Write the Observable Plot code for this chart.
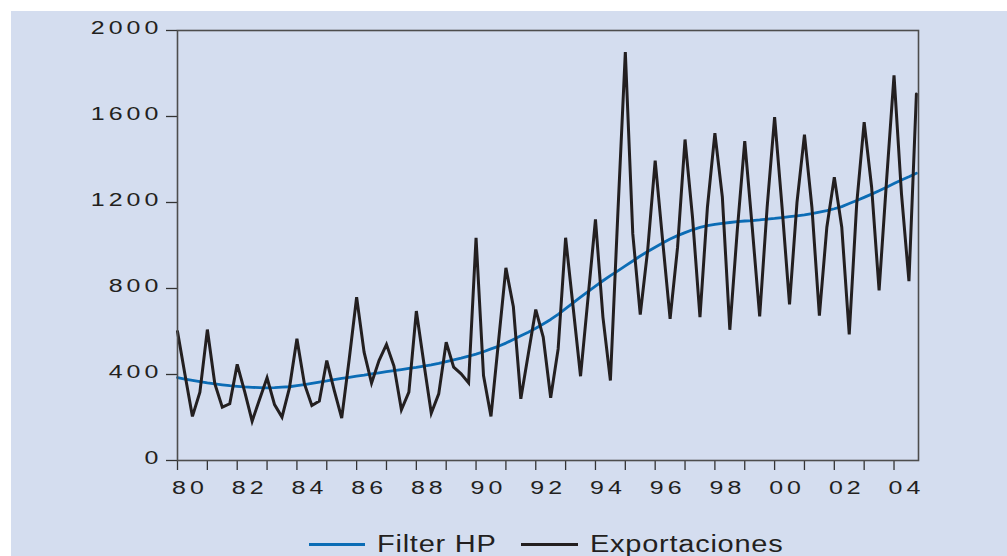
<!DOCTYPE html>
<html>
<head>
<meta charset="utf-8">
<script src="https://cdn.jsdelivr.net/npm/d3@7"></script>
<script src="https://cdn.jsdelivr.net/npm/@observablehq/plot@0.6"></script>
<style>
  html, body { margin: 0; padding: 0; background: #ffffff; }
  body { width: 1007px; height: 556px; position: relative; overflow: hidden;
         font-family: "Liberation Sans", Arial, Helvetica, sans-serif; }
  #bg { position: absolute; left: 11px; top: 11px; width: 996px; height: 545px; background: #d4ddef; }
  #chart { position: absolute; left: 0; top: 0; }
  .leg-line { position: absolute; height: 3px; }
  .leg-text { position: absolute; font-size: 23px; line-height: 23px; color: #231f20;
              transform: scaleX(1.26); transform-origin: left center; white-space: nowrap; letter-spacing: 0.6px; }
</style>
</head>
<body>
<div id="bg"></div>
<div id="chart"></div>
<div class="leg-line" style="left:309px; top:543px; width:56px; background:#0b6cb5;"></div>
<div class="leg-text" style="left:377px; top:533px;">Filter HP</div>
<div class="leg-line" style="left:521px; top:543px; width:57px; background:#231f20;"></div>
<div class="leg-text" style="left:590px; top:533px;">Exportaciones</div>
<script>
// Quarterly series, 1980Q1 .. 2004Q4
const startYear = 1980;
const exportaciones = [
  600, 400, 205, 318, 609, 357, 248, 264, 447, 320,
  183, 285, 385, 260, 202, 338, 566, 357, 256, 276,
  465, 326, 197, 470, 760, 504, 360, 465, 540, 439,
  236, 318, 695, 455, 220, 310, 550, 434, 403, 361,
  1036, 395, 205, 550, 896, 715, 287, 495, 702, 574,
  292, 519, 1036, 715, 392, 755, 1121, 667, 372, 1150,
  1900, 1054, 679, 980, 1395, 1023, 659, 992, 1493, 1132,
  667, 1178, 1523, 1225, 608, 1070, 1485, 1085, 670, 1178,
  1597, 1178, 726, 1201, 1516, 1178, 674, 1085, 1318, 1085,
  586, 1194, 1574, 1271, 791, 1302, 1791, 1240, 834, 1705
];
const filterHP = [
  385, 379, 373, 367, 361, 356, 352, 348, 345, 342,
  340, 339, 338, 339, 341, 343, 348, 353, 359, 365,
  370, 376, 382, 387, 392, 397, 403, 408, 413, 418,
  423, 428, 433, 439, 445, 452, 460, 468, 476, 485,
  495, 506, 519, 531, 546, 563, 580, 597, 615, 635,
  656, 680, 706, 733, 760, 786, 811, 836, 860, 882,
  905, 928, 951, 972, 992, 1012, 1030, 1046, 1060, 1073,
  1084, 1092, 1098, 1103, 1107, 1111, 1114, 1116, 1119, 1123,
  1126, 1130, 1134, 1138, 1142, 1148, 1155, 1162, 1171, 1181,
  1195, 1209, 1224, 1239, 1255, 1271, 1288, 1305, 1320, 1336
];
const yTicks = [0, 400, 800, 1200, 1600, 2000];
const xLabelYears = [1980, 1982, 1984, 1986, 1988, 1990, 1992, 1994, 1996, 1998, 2000, 2002, 2004];
const xMinorYears = d3.range(1980, 2005);

const rows = exportaciones.map((v, i) => ({t: startYear + i / 4, exp: v, hp: filterHP[i]}));

const fmtYear = d => String(d % 100).padStart(2, "0");
const axisColor = "#333333";
const font = "'Liberation Sans', Arial, Helvetica, sans-serif";

const chart = Plot.plot({
  width: 1007,
  height: 500,
  marginLeft: 177,
  marginRight: 89,
  marginTop: 30,
  marginBottom: 40,
  style: {background: "transparent", fontFamily: font, fontSize: "18.5px", color: "#231f20", overflow: "visible"},
  x: {domain: [1980, 2004.82], label: null},
  y: {domain: [0, 2000], label: null},
  marks: [
    Plot.axisY(yTicks, {tickSize: 11, tickFormat: () => "", stroke: axisColor, strokeWidth: 1.3, label: null}),
    Plot.axisY(yTicks, {tickSize: 0, tickPadding: 15, dy: -2.7, fontSize: 18.5, fill: "#231f20", label: null, tickFormat: d => String(d)}),
    Plot.axisX(xMinorYears, {tickSize: 10, tickFormat: () => "", stroke: axisColor, strokeWidth: 1.3, label: null}),
    Plot.axisX(xLabelYears, {tickSize: 0, tickPadding: 20, dx: 12.5, fontSize: 18.5, fill: "#231f20", label: null, tickFormat: fmtYear}),
    Plot.line(rows, {x: "t", y: "hp", stroke: "#0b6cb5", strokeWidth: 2.8}),
    Plot.line(rows, {x: "t", y: "exp", stroke: "#231f20", strokeWidth: 3, strokeLinejoin: "miter", strokeMiterlimit: 4}),
    Plot.frame({stroke: "#4d4d4d", strokeWidth: 1.6})
  ]
});
document.getElementById("chart").appendChild(chart);

// Stretch tick labels horizontally like the original typeface
chart.querySelectorAll('g[aria-label$="tick label"] text').forEach(el => {
  const xa = el.getAttribute("x");
  let pre = "";
  if (xa && !/em$/.test(xa)) { pre = ` translate(${parseFloat(xa)},0)`; el.removeAttribute("x"); }
  const t = el.getAttribute("transform") || "";
  el.setAttribute("transform", t + pre + " scale(1.35,1)");
  el.style.letterSpacing = "3px";
});
</script>
</body>
</html>
